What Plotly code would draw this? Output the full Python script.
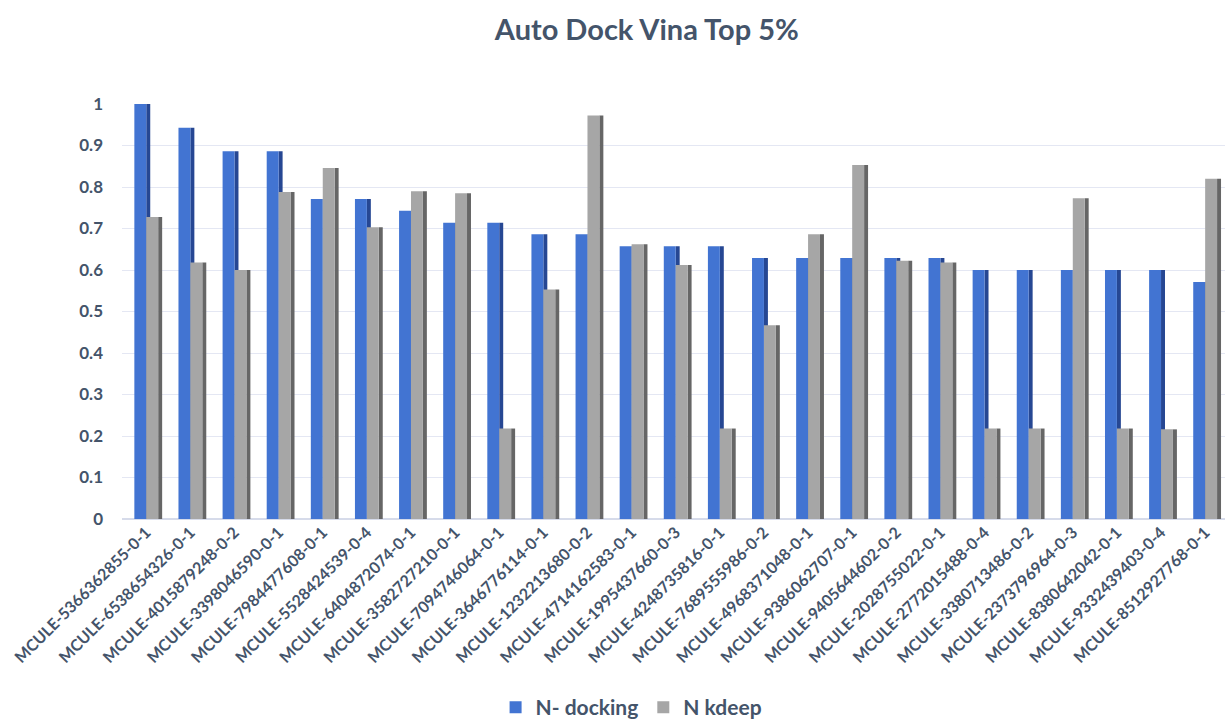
import plotly.graph_objects as go

categories = [
    "MCULE-5366362855-0-1", "MCULE-6538654326-0-1", "MCULE-4015879248-0-2",
    "MCULE-3398046590-0-1", "MCULE-7984477608-0-1", "MCULE-5528424539-0-4",
    "MCULE-6404872074-0-1", "MCULE-3582727210-0-1", "MCULE-7094746064-0-1",
    "MCULE-3646776114-0-1", "MCULE-1232213680-0-2", "MCULE-4714162583-0-1",
    "MCULE-1995437660-0-3", "MCULE-4248735816-0-1", "MCULE-7689555986-0-2",
    "MCULE-4968371048-0-1", "MCULE-9386062707-0-1", "MCULE-9405644602-0-2",
    "MCULE-2028755022-0-1", "MCULE-2772015488-0-4", "MCULE-3380713486-0-2",
    "MCULE-2373796964-0-3", "MCULE-8380642042-0-1", "MCULE-9332439403-0-4",
    "MCULE-8512927768-0-1",
]
n_docking = [1.0, 0.943, 0.886, 0.886, 0.771, 0.771, 0.743, 0.714, 0.714, 0.686,
             0.686, 0.657, 0.657, 0.657, 0.629, 0.629, 0.629, 0.629, 0.629, 0.6,
             0.6, 0.6, 0.6, 0.6, 0.571]
n_kdeep = [0.728, 0.618, 0.6, 0.788, 0.846, 0.703, 0.79, 0.785, 0.218, 0.553,
           0.972, 0.662, 0.612, 0.218, 0.467, 0.686, 0.853, 0.622, 0.618, 0.218,
           0.218, 0.773, 0.218, 0.216, 0.82]

TXT = "#44546a"
FONT = "Lato"
BLUE, BLUE_SIDE = "#4274d2", "#264793"
GRAY, GRAY_SIDE = "#a6a6a6", "#666666"
W, SIDE = 0.27, 0.09

fig = go.Figure()
# blue side face
fig.add_trace(go.Bar(x=categories, y=n_docking, offset=0, width=SIDE,
                     marker=dict(color=BLUE_SIDE, line_width=0),
                     showlegend=False, hoverinfo="skip"))
# blue front
fig.add_trace(go.Bar(x=categories, y=n_docking, offset=-W, width=W, name="N- docking",
                     marker=dict(color=BLUE, line_width=0)))
# gray side face
fig.add_trace(go.Bar(x=categories, y=n_kdeep, offset=W, width=SIDE,
                     marker=dict(color=GRAY_SIDE, line_width=0),
                     showlegend=False, hoverinfo="skip"))
# gray front
fig.add_trace(go.Bar(x=categories, y=n_kdeep, offset=0, width=W, name="N kdeep",
                     marker=dict(color=GRAY, line_width=0)))

fig.update_layout(
    width=1225, height=719,
    barmode="overlay",
    paper_bgcolor="white", plot_bgcolor="white",
    margin=dict(l=122, r=0, t=104, b=200, autoexpand=False),
    title=dict(text="<b>Auto Dock Vina Top 5%</b>", x=0.528, xanchor="center",
               y=0.958, yanchor="middle",
               font=dict(family=FONT, size=29, color=TXT)),
    font=dict(family=FONT, color=TXT),
    legend=dict(orientation="h", x=0.462, xanchor="center", y=-0.405, yanchor="top",
                font=dict(family=FONT, size=21, color=TXT, weight="bold"),
                traceorder="normal", itemwidth=30),
    xaxis=dict(tickangle=-45, tickfont=dict(family=FONT, size=16, color=TXT, weight="bold"),
               showgrid=False, showline=False, ticks="", range=[-0.55, 24.45],
               automargin=False),
    yaxis=dict(range=[0, 1.0], dtick=0.1, tickformat="~g",
               tickfont=dict(family=FONT, size=17, color=TXT, weight="bold"),
               gridcolor="#e4e7f3", gridwidth=1, zeroline=True, zerolinecolor="#d6dbea",
               showline=False, ticks="", ticklabelstandoff=18, automargin=False),
)

fig.write_html("out.html")
